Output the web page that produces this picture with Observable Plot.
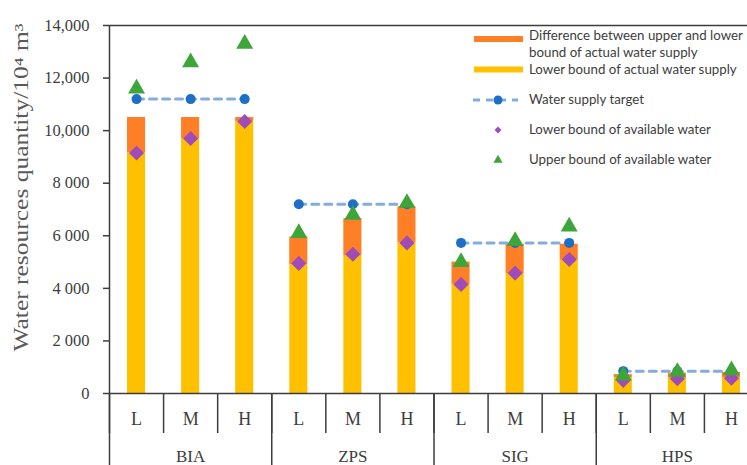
<!DOCTYPE html>
<html>
<head>
<meta charset="utf-8">
<script src="https://cdn.jsdelivr.net/npm/d3@7"></script>
<script src="https://cdn.jsdelivr.net/npm/@observablehq/plot@0.6"></script>
<style>
  html, body { margin: 0; padding: 0; overflow: hidden; background: #fff; }
  #wrap { position: relative; width: 747px; height: 465px; overflow: hidden; }
  #legend { position: absolute; left: 0; top: 0; pointer-events: none; }
</style>
</head>
<body>
<div id="wrap"></div>
<script>
// Water supply scenarios: four schemes, each at low / medium / high level (10^4 m^3)
const groups = ["BIA", "ZPS", "SIG", "HPS"];
const levels = ["L", "M", "H"];

// Water supply target, one per scheme
const supplyTarget = [11200, 7200, 5730, 850];

// Actual water supply bounds, in scheme order then level order
const actualLower = [9150, 9700, 10350, 4900, 5250, 5730, 4150, 4560, 5070, 600, 580, 600];
const actualUpper = [10500, 10500, 10500, 5950, 6650, 7100, 5000, 5680, 5680, 720, 780, 800];

// Available water bounds
const availableLower = [9150, 9700, 10350, 4950, 5300, 5730, 4150, 4580, 5100, 500, 560, 580];
const availableUpper = [11600, 12600, 13300, 6100, 6800, 7250, 5000, 5800, 6350, 680, 820, 880];

// Y axis ticks and their printed labels
const yTicks = [0, 2000, 4000, 6000, 8000, 10000, 12000, 14000];
const yTickLabels = ["0", "2 000", "4 000", "6 000", "8 000", "10,000", "12,000", "14,000"];
const yTitle = "Water resources quantity/10\u2074 m\u00b3";

const legendLabels = {
  diff: ["Difference between upper and lower", "bound of actual water supply"],
  lower: "Lower bound of actual water supply",
  target: "Water supply target",
  availLower: "Lower bound of available water",
  availUpper: "Upper bound of available water"
};

const colors = {
  orange: "#FF7F27",
  yellow: "#FFC000",
  targetDot: "#1E6EC8",
  targetLine: "#86ABDD",
  diamond: "#A04CB8",
  triangle: "#3EA53A",
  ink: "#3d3d3d"
};

// One row per scheme × level, placed on an index axis (each slot is one unit wide)
const rows = groups.flatMap((g, gi) => levels.map((lv, li) => {
  const i = gi * levels.length + li;
  return {
    group: g, level: lv,
    i0: i, i1: i + 1, xm: i + 0.5,
    target: supplyTarget[gi],
    lower: actualLower[i], upper: actualUpper[i],
    availLower: availableLower[i], availUpper: availableUpper[i]
  };
}));
const groupRows = groups.map((g, gi) => ({group: g, xm: gi * levels.length + levels.length / 2}));
const tickText = new Map(yTicks.map((t, k) => [t, yTickLabels[k]]));

const serif = "'Liberation Serif', 'Times New Roman', serif";

const chart = Plot.plot({
  width: 760,
  height: 465,
  marginLeft: 109,
  marginRight: 2,
  marginTop: 25,
  marginBottom: 72,
  style: {maxWidth: "none", fontFamily: serif, fontSize: "16px", color: colors.ink, background: "white", overflow: "visible"},
  x: {domain: [0, rows.length], axis: null},
  y: {domain: [0, 14000], axis: null},
  marks: [
    Plot.rectY(rows, {x1: "i0", x2: "i1", y1: 0, y2: "lower", fill: colors.yellow, insetLeft: 18, insetRight: 18}),
    Plot.rectY(rows, {x1: "i0", x2: "i1", y1: "lower", y2: "upper", fill: colors.orange, insetLeft: 18, insetRight: 18}),
    Plot.line(rows, {x: "xm", y: "target", z: "group", stroke: colors.targetLine, strokeWidth: 3, strokeDasharray: "7,6"}),
    Plot.dot(rows, {x: "xm", y: "target", r: 5, fill: colors.targetDot}),
    Plot.dot(rows, {x: "xm", y: "availLower", symbol: "diamond2", r: 6.8, fill: colors.diamond}),
    Plot.dot(rows, {x: "xm", y: "availUpper", symbol: "triangle", r: 6.3, fill: colors.triangle}),
    // frame: left axis line, top border and baseline
    Plot.ruleX([0], {stroke: colors.ink, strokeWidth: 1.5}),
    Plot.ruleY([14000], {stroke: colors.ink, strokeWidth: 1.5}),
    Plot.ruleY([0], {stroke: colors.ink, strokeWidth: 1.5}),
    Plot.axisY({ticks: yTicks, tickFormat: d => tickText.get(d), tickSize: 6, tickPadding: 14, label: null,
      stroke: colors.ink, strokeWidth: 1.5, fill: colors.ink, fontSize: 16.5, fontFamily: serif}),
    // category table below the baseline
    Plot.axisX({ticks: d3.range(0, rows.length + 1), tickSize: 40, tickFormat: () => "", label: null,
      stroke: colors.ink, strokeWidth: 1.5}),
    Plot.axisX({ticks: d3.range(0, rows.length + 1, levels.length), tickSize: 75, tickFormat: () => "", label: null,
      stroke: colors.ink, strokeWidth: 1.5}),
    Plot.text(rows, {x: "xm", text: "level", frameAnchor: "bottom", lineAnchor: "middle", dy: 26,
      fontSize: 18, fontFamily: serif, fill: colors.ink}),
    Plot.text(groupRows, {x: "xm", text: "group", frameAnchor: "bottom", lineAnchor: "middle", dy: 63,
      fontSize: 17, fontFamily: serif, fill: colors.ink}),
    Plot.text([yTitle], {frameAnchor: "left", rotate: -90, textAnchor: "middle", lineAnchor: "middle",
      dx: -88, dy: -22, fontSize: 20, fontFamily: serif, fill: "#5a5a5a", className: "ytitle"})
  ]
});

// stretch the y title over the same span as the printed axis
d3.select(chart).selectAll(".ytitle text")
  .attr("textLength", 328).attr("lengthAdjust", "spacingAndGlyphs");

const wrap = document.getElementById("wrap");
wrap.appendChild(chart);

// Legend drawn in the upper-right corner of the plot area
const legend = d3.select(wrap).append("svg")
  .attr("id", "legend")
  .attr("width", 747).attr("height", 465)
  .style("font-family", "Lato, 'Open Sans', sans-serif")
  .style("font-size", "13.3px");

const tx = 529, sx = 474, sw = 49, cx = 498;
const label = (y, s) => legend.append("text").attr("x", tx).attr("y", y)
  .attr("dominant-baseline", "central").attr("fill", colors.ink).text(s);

legend.append("rect").attr("x", sx).attr("y", 36).attr("width", sw).attr("height", 6).attr("fill", colors.orange);
label(35, legendLabels.diff[0]);
label(52, legendLabels.diff[1]);

legend.append("rect").attr("x", sx).attr("y", 66.5).attr("width", sw).attr("height", 6).attr("fill", colors.yellow);
label(69, legendLabels.lower);

legend.append("line").attr("x1", sx - 1).attr("x2", sx + 44).attr("y1", 100).attr("y2", 100)
  .attr("stroke", colors.targetLine).attr("stroke-width", 3).attr("stroke-dasharray", "7,6");
legend.append("circle").attr("cx", cx).attr("cy", 100).attr("r", 4.5).attr("fill", colors.targetDot);
label(99, legendLabels.target);

legend.append("path").attr("transform", `translate(${cx},130)`)
  .attr("d", d3.symbol(d3.symbolDiamond2, 30)()).attr("fill", colors.diamond);
label(129, legendLabels.availLower);

legend.append("path").attr("transform", `translate(${cx},160)`)
  .attr("d", d3.symbol(d3.symbolTriangle, 36)()).attr("fill", colors.triangle);
label(159, legendLabels.availUpper);
</script>
</body>
</html>
